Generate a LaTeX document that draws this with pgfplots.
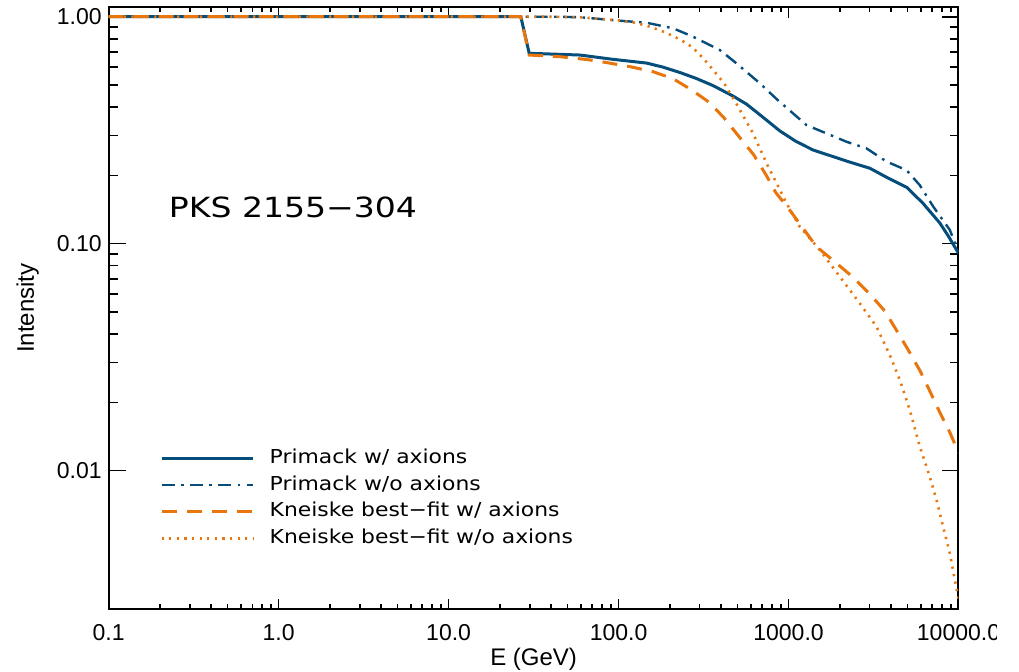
\documentclass[border=0pt]{standalone}
\usepackage{pgfplots}
\pgfplotsset{compat=1.18}
\usepackage{fontspec}
\setmainfont{Liberation Sans}
\newfontfamily\hershey{DejaVu Sans}[FakeStretch=1.14]
\newfontfamily\hersheywide{DejaVu Sans}[FakeStretch=1.19]

\definecolor{primackblue}{RGB}{5,78,124}
\definecolor{kneiskeorange}{RGB}{233,117,13}

\begin{document}
\begin{tikzpicture}
\begin{axis}[
  at={(0,0)}, anchor=south west,
  scale only axis,
  width=424.9pt, height=301.4pt,
  xmode=log, ymode=log,
  xmin=0.1, xmax=10000, ymin=0.002446, ymax=1.107,
  xtick={0.1,1,10,100,1000,10000},
  xticklabels={0.1,1.0,10.0,100.0,1000.0,10000.0},
  ytick={0.01,0.1,1},
  yticklabels={0.01,0.10,1.00},
  tick align=inside,
  axis line style={line width=1pt},
  every tick/.style={black, line width=0.8pt},
  xtick style={/pgfplots/major tick length=5.5pt, /pgfplots/minor tick length=2.8pt},
  ytick style={/pgfplots/major tick length=8.5pt, /pgfplots/minor tick length=4.5pt},
  tick label style={font=\fontsize{11.5}{13}\selectfont},
  xticklabel style={yshift=-3.8pt},
  xlabel={E (GeV)}, ylabel={Intensity},
  every axis x label/.style={at={(axis description cs:0.5,-0.0921)}, anchor=base,
    font=\fontsize{12}{14}\selectfont},
  every axis y label/.style={at={(axis description cs:-0.0879,0.5)}, anchor=base, rotate=90,
    font=\fontsize{12}{14}\selectfont},
  legend cell align=left,
  legend image code/.code={\draw[#1] (0pt,0pt) -- (45.85pt,0pt);},
  legend style={at={(axis description cs:0.0604,0.2658)}, anchor=north west,
    draw=none, fill=none, inner sep=0pt, outer sep=0pt,
    row sep=4.4pt, column sep=7.5pt,
    font=\hershey\fontsize{9.6}{11}\selectfont,
    nodes={inner sep=0pt, text height=7pt, text depth=2pt}},
]
% Primack EBL model, with photon-axion mixing
\addplot[primackblue, line width=1.5pt] coordinates {
 (0.1,1.0) (26.6,1.0) (29.8,0.690) (59.2,0.678) (92.6,0.649) (146,0.625)
 (182,0.600) (229.5,0.568) (287.6,0.534) (360,0.497) (472,0.447) (566,0.412)
 (700,0.363) (889,0.314) (1100,0.283) (1390,0.259) (2202,0.231) (3008,0.215)
 (3787,0.196) (4965,0.177) (6166,0.151) (7762,0.1234) (8650,0.109)
 (9908,0.0919) (10000,0.0905)
};
\addlegendentry{Primack w/ axions}
% Primack EBL model, no mixing
\addplot[primackblue, line width=1.2pt, dash pattern=on 6.5pt off 3.2pt on 1.3pt off 3.2pt] coordinates {
 (0.1,1.0) (40,1.0) (59.2,0.995) (101.8,0.960) (146,0.941) (209.5,0.889)
 (274.7,0.816) (394.5,0.713) (494,0.623) (678,0.509) (850,0.434) (1276,0.333)
 (1673,0.306) (2202,0.281) (2876,0.263) (3771,0.230) (4941,0.211) (5922,0.181)
 (7091,0.146) (8889,0.115) (9908,0.0938) (10000,0.092)
};
\addlegendentry{Primack w/o axions}
% Kneiske best-fit EBL model, with photon-axion mixing
\addplot[kneiskeorange, line width=1.5pt, dash pattern=on 7.5pt off 5pt] coordinates {
 (0.1,1.0) (26.6,1.0) (29.8,0.678) (44.8,0.667) (64.8,0.648) (85,0.628)
 (120,0.600) (160,0.572) (209.5,0.533) (268.8,0.476) (341,0.420) (418,0.358)
 (512,0.296) (625,0.246) (740,0.200) (841,0.168) (1000,0.143) (1461,0.097)
 (1917,0.082) (2399,0.0711) (3008,0.0600) (3686,0.0505) (4365,0.0410)
 (5100,0.0337) (5946,0.0275) (6806,0.0223) (7730,0.0182) (8889,0.01477)
 (9908,0.01221) (10000,0.0120)
};
\addlegendentry{Kneiske best−fit w/ axions}
% Kneiske best-fit EBL model, no mixing
\addplot[kneiskeorange, line width=1.3pt, dash pattern=on 1.1pt off 2.7pt] coordinates {
 (0.1,1.0) (40,1.0) (59.2,0.995) (101.8,0.962) (124.7,0.941) (152.8,0.904)
 (187.5,0.854) (229.5,0.795) (272.5,0.733) (318.8,0.649) (365,0.576)
 (418,0.509) (494,0.413) (619,0.306) (742.5,0.226) (889,0.173) (973,0.1507)
 (1165,0.1188) (1528,0.0938) (2005,0.0715) (2627,0.0546) (3293,0.0431)
 (3945,0.0323) (4516,0.0251) (5170,0.0185) (5922,0.01276) (6780,0.0094)
 (7425,0.00743) (8118,0.00567) (8889,0.00433) (9511,0.00330) (9908,0.00283)
 (10000,0.0027)
};
\addlegendentry{Kneiske best−fit w/o axions}
\node[anchor=base west, font=\hersheywide\fontsize{13.9}{16}\selectfont]
  at (axis description cs:0.0625,0.6495) {PKS 2155−304};
\end{axis}
% the page ends just short of the last tick label
\fill[white] (444.15pt,-31.25pt) rectangle (455.15pt,304.75pt);
\pgfresetboundingbox
\useasboundingbox (-54.35pt,-31.25pt) rectangle (455.15pt,304.75pt);
\end{tikzpicture}
\end{document}
